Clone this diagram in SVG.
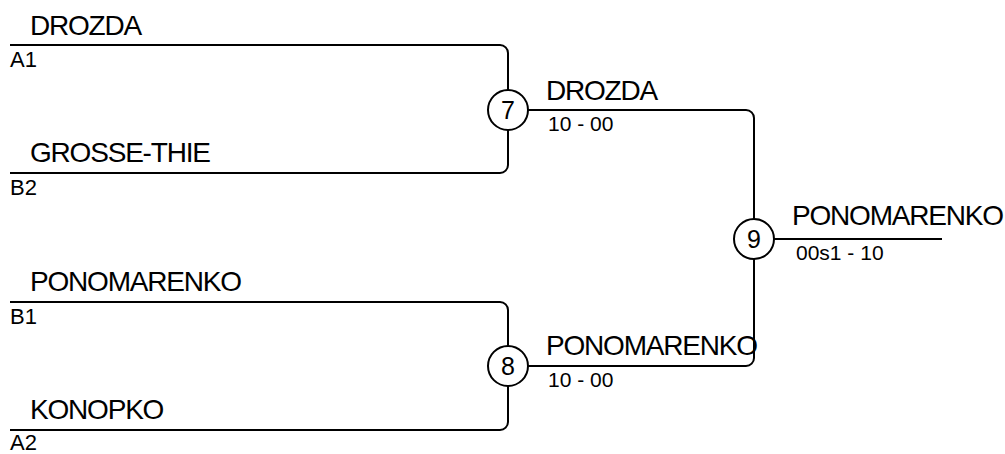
<svg xmlns="http://www.w3.org/2000/svg" width="1005" height="454" viewBox="0 0 1005 454">
<style>
.ln{fill:none;stroke:#000;stroke-width:2}
.c{fill:#fff;stroke:#000;stroke-width:2}
.nm{font-family:"Liberation Sans",Arial,sans-serif;font-size:28px;letter-spacing:-1.2px;fill:#000}
.sd{font-family:"Liberation Sans",Arial,sans-serif;font-size:22px;fill:#000}
.sc{font-family:"Liberation Sans",Arial,sans-serif;font-size:21px;fill:#000}
.num{font-family:"Liberation Sans",Arial,sans-serif;font-size:25px;fill:#000;text-anchor:middle}
</style>
<rect width="1005" height="454" fill="#fff"/>
<g id="connectors">
<path class="ln" d="M10 45 H500 A8 8 0 0 1 508 53 V90"/>
<path class="ln" d="M508 130 V165 A8 8 0 0 1 500 173 H10"/>
<path class="ln" d="M10 302 H500 A8 8 0 0 1 508 310 V346"/>
<path class="ln" d="M508 386 V422 A8 8 0 0 1 500 430 H10"/>
<path class="ln" d="M528 110 H746 A8 8 0 0 1 754 118 V219"/>
<path class="ln" d="M528 366 H746 A8 8 0 0 0 754 358 V259"/>
<path class="ln" d="M774 239 H942"/>
</g>
<g id="entry-a1"><text class="nm" x="30" y="35">DROZDA</text><text class="sd" x="10" y="67">A1</text></g>
<g id="entry-b2"><text class="nm" x="30" y="162">GROSSE-THIE</text><text class="sd" x="10" y="195">B2</text></g>
<g id="entry-b1"><text class="nm" x="30" y="291">PONOMARENKO</text><text class="sd" x="10" y="324">B1</text></g>
<g id="entry-a2"><text class="nm" x="30" y="419">KONOPKO</text><text class="sd" x="10" y="450">A2</text></g>
<g id="match-7"><circle class="c" cx="508" cy="110" r="20"/><text class="num" x="508" y="119">7</text><text class="nm" x="546" y="100">DROZDA</text><text class="sc" x="548" y="131">10 - 00</text></g>
<g id="match-8"><circle class="c" cx="508" cy="366" r="20"/><text class="num" x="508" y="375">8</text><text class="nm" x="546" y="355">PONOMARENKO</text><text class="sc" x="548" y="387">10 - 00</text></g>
<g id="match-9"><circle class="c" cx="754" cy="239" r="20"/><text class="num" x="754" y="248">9</text><text class="nm" x="792" y="225">PONOMARENKO</text><text class="sc" x="796" y="260">00s1 - 10</text></g>
</svg>
